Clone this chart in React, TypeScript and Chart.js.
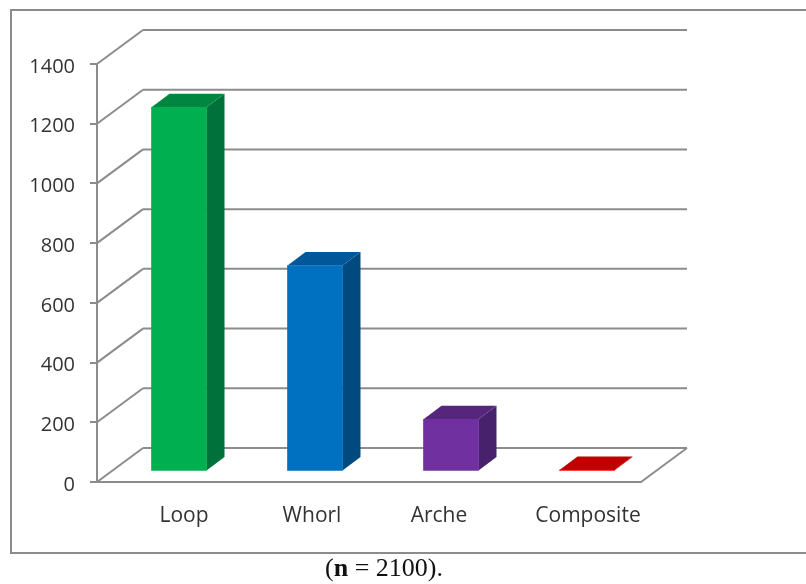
import React, { useEffect, useRef } from "react";
import { Chart, registerables } from "chart.js";

Chart.register(...registerables);

const categories = ["Loop", "Whorl", "Arche", "Composite"];
const counts = [1220, 690, 175, 5];
const yTicks = [0, 200, 400, 600, 800, 1000, 1200, 1400];
const frontColors = ["#00b050", "#0070c0", "#7030a0", "#ff0000"];
const topColors = ["#00873f", "#00589a", "#55267c", "#c00000"];
const sideColors = ["#00713a", "#004a80", "#47216b", "#a00000"];

const LINE = "#8c8c8c";
const TEXT = "#333333";
const FONT = "'Open Sans'";
const WALL = { dx: 46, dy: -34 };
const BAR_SHIFT = { dx: 14, dy: -10.5 };
const BAR_DEPTH = { dx: 18, dy: -13.5 };
const LABEL_NUDGE = [19, 11, 2, 15];

const seg = (ctx: CanvasRenderingContext2D, x1: number, y1: number, x2: number, y2: number) => {
  ctx.beginPath();
  ctx.moveTo(x1, y1);
  ctx.lineTo(x2, y2);
  ctx.stroke();
};
const poly = (ctx: CanvasRenderingContext2D, pts: number[][], fill: string) => {
  ctx.beginPath();
  pts.forEach(([x, y], i) => (i ? ctx.lineTo(x, y) : ctx.moveTo(x, y)));
  ctx.closePath();
  ctx.fillStyle = fill;
  ctx.fill();
};

const box3d = {
  id: "box3d",
  beforeDatasetsDraw(chart: any) {
    const { ctx, chartArea, scales } = chart;
    const { left, right, bottom } = chartArea;
    ctx.save();
    ctx.strokeStyle = LINE;
    ctx.lineWidth = 2;
    yTicks.forEach((v) => {
      const y = scales.y.getPixelForValue(v);
      seg(ctx, left, y, left + WALL.dx, y + WALL.dy);
      seg(ctx, left + WALL.dx, y + WALL.dy, right + WALL.dx, y + WALL.dy);
    });
    seg(ctx, right, bottom, right + WALL.dx, bottom + WALL.dy);
    ctx.restore();

    ctx.save();
    ctx.translate(BAR_SHIFT.dx, BAR_SHIFT.dy);
    chart.getDatasetMeta(0).data.forEach((bar: any, i: number) => {
      const x0 = bar.x - bar.width / 2;
      const x1 = bar.x + bar.width / 2;
      const { dx, dy } = BAR_DEPTH;
      poly(ctx, [[x1, bar.y], [x1 + dx, bar.y + dy], [x1 + dx, bar.base + dy], [x1, bar.base]], sideColors[i]);
      poly(ctx, [[x0, bar.y], [x0 + dx, bar.y + dy], [x1 + dx, bar.y + dy], [x1, bar.y]], topColors[i]);
    });
  },
  afterDatasetsDraw(chart: any) {
    chart.ctx.restore();
  },
};

export default function App() {
  const ref = useRef<HTMLCanvasElement>(null);
  useEffect(() => {
    const chart = new Chart(ref.current as HTMLCanvasElement, {
      type: "bar",
      data: {
        labels: categories,
        datasets: [
          {
            data: counts,
            backgroundColor: frontColors,
            borderWidth: 0,
            barThickness: 55,
            clip: false,
          } as any,
        ],
      },
      plugins: [box3d as any],
      options: {
        animation: false,
        responsive: false,
        devicePixelRatio: 1,
        layout: { padding: { top: 64, right: 165, left: 0, bottom: 0 } },
        plugins: { legend: { display: false }, tooltip: { enabled: false } },
        scales: {
          x: {
            afterFit: (s: any) => {
              s.height = 102;
            },
            afterUpdate: (s: any) => {
              const base = s.getPixelForTick.bind(s);
              s.getPixelForTick = (i: number) => base(i) + LABEL_NUDGE[i];
            },
            grid: { display: false },
            border: { display: true, color: LINE, width: 2 },
            ticks: {
              color: TEXT,
              font: { family: FONT, size: 21 },
              padding: 13,
              maxRotation: 0,
              autoSkip: false,
            },
          },
          y: {
            min: 0,
            max: 1400,
            afterFit: (s: any) => {
              s.width = 97;
            },
            afterBuildTicks: (s: any) => {
              s.ticks = yTicks.map((value) => ({ value }));
            },
            grid: { drawOnChartArea: false, drawTicks: true, tickLength: 7, color: LINE, lineWidth: 2 },
            border: { display: true, color: LINE, width: 2 },
            ticks: {
              color: TEXT,
              font: { family: FONT, size: 20 },
              padding: 15,
              labelOffset: 3,
              callback: (v: any) => String(v),
            },
          },
        },
      } as any,
    });
    return () => chart.destroy();
  }, []);

  return (
    <div
      style={{
        position: "fixed",
        left: 0,
        top: 0,
        width: 806,
        height: 584,
        background: "#fff",
        overflow: "hidden",
        filter: "blur(0.4px)",
      }}
    >
      <div
        style={{
          position: "absolute",
          left: 10,
          top: 9,
          width: 796,
          height: 541,
          borderLeft: "2px solid #8c8c8c",
          borderTop: "2px solid #8c8c8c",
          borderBottom: "2px solid #8c8c8c",
        }}
      />
      <canvas ref={ref} width={806} height={584} style={{ position: "absolute", left: 0, top: 0, display: "block" }} />
      <div
        style={{
          position: "absolute",
          left: 325,
          top: 554,
          fontFamily: "'Liberation Serif'",
          fontSize: 26,
          lineHeight: "28px",
          color: "#111",
          whiteSpace: "nowrap",
        }}
      >
        (<b>n</b> = 2100).
      </div>
    </div>
  );
}
